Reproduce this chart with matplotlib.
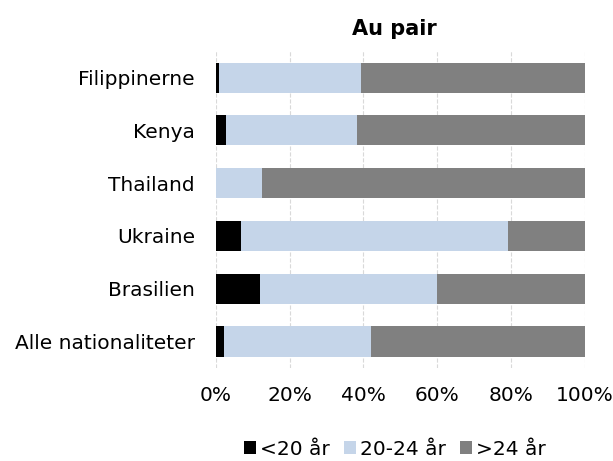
import numpy as np
import matplotlib.pyplot as plt
from matplotlib.ticker import PercentFormatter

plt.rcParams['font.family'] = ['DejaVu Sans']

categories = ["Filippinerne", "Kenya", "Thailand", "Ukraine", "Brasilien", "Alle nationaliteter"]
under20 = [0.9, 2.9, 0.0, 6.9, 12.0, 2.3]
age20_24 = [38.5, 35.4, 12.5, 72.4, 48.0, 39.7]
over24 = [100 - a - b for a, b in zip(under20, age20_24)]

series_labels = ["<20 år", "20-24 år", ">24 år"]
colors = ["#000000", "#c5d5e9", "#808080"]

fig = plt.figure(figsize=(6.13, 4.61), dpi=100)
ax = fig.add_axes([0.352, 0.202, 0.602, 0.687])

y = np.arange(len(categories))[::-1]
left = np.zeros(len(categories))
for vals, lab, col in zip([under20, age20_24, over24], series_labels, colors):
    ax.barh(y, vals, left=left, height=0.57, color=col, label=lab)
    left += np.array(vals)

ax.set_xlim(0, 100)
ax.set_ylim(-0.5, len(categories) - 0.5)
ax.set_yticks(y)
ax.set_yticklabels(categories, fontsize=14.5)
ax.set_xticks(np.arange(0, 101, 20))
ax.xaxis.set_major_formatter(PercentFormatter(decimals=0))
ax.tick_params(axis='x', labelsize=14.5, length=0, pad=13)
ax.tick_params(axis='y', length=0, pad=15)
for s in ax.spines.values():
    s.set_visible(False)
ax.grid(axis='x', color='#d9d9d9', linestyle='--', linewidth=0.8)
ax.set_axisbelow(True)

ax.set_title("Au pair", fontsize=15, fontweight='bold', pad=12, x=0.485)

ax.legend(loc='upper center', bbox_to_anchor=(0.485, -0.17), ncol=3, frameon=False,
          fontsize=14.5, handlelength=0.6, handleheight=0.6, handletextpad=0.2,
          columnspacing=0.7)

fig.savefig("out.png", dpi=100)
